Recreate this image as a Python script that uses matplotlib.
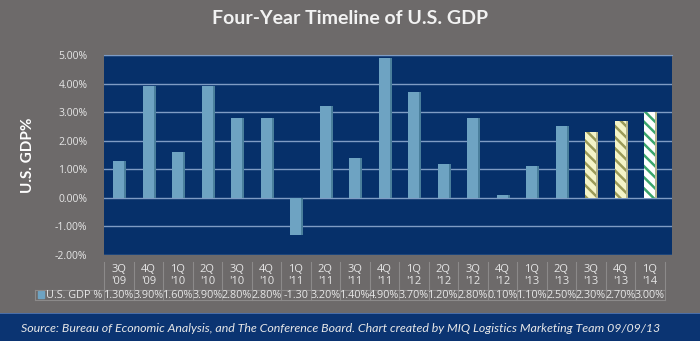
import numpy as np
import matplotlib
matplotlib.use("Agg")
import matplotlib.pyplot as plt
from matplotlib.patches import Rectangle

# data
quarters = ["3Q", "4Q", "1Q", "2Q", "3Q", "4Q", "1Q", "2Q", "3Q", "4Q",
            "1Q", "2Q", "3Q", "4Q", "1Q", "2Q", "3Q", "4Q", "1Q"]
years = ["'09", "'09", "'10", "'10", "'10", "'10", "'11", "'11", "'11", "'11",
         "'12", "'12", "'12", "'12", "'13", "'13", "'13", "'13", "'14"]
gdp = [1.3, 3.9, 1.6, 3.9, 2.8, 2.8, -1.3, 3.2, 1.4, 4.9,
       3.7, 1.2, 2.8, 0.1, 1.1, 2.5, 2.3, 2.7, 3.0]
n_forecast = 3

bg = "#6d6a6a"
wall = "#06306a"
bar_col = "#6ea3c2"
bar_side = "#4a7f9c"
txt = "#e6e6e6"
line_col = "#8c8a8a"

plt.rcParams['font.family'] = ['Lato', 'DejaVu Sans']
plt.rcParams['hatch.linewidth'] = 1.8
tfont = ['Open Sans', 'DejaVu Sans']

fig = plt.figure(figsize=(7, 3.41), dpi=100)
fig.patch.set_facecolor(bg)

W, H = 700.0, 341.0
ax = fig.add_axes([104 / W, 1 - 255 / H, 568 / W, 200 / H])
ax.set_facecolor(wall)
ax.set_xlim(-0.5, 18.75)
ax.set_ylim(-2, 5)

x = np.arange(len(gdp))
for sp in ax.spines.values():
    sp.set_visible(False)
ax.spines["top"].set_visible(True)
ax.spines["top"].set_color("#7f9cc4")
ax.yaxis.grid(True, color="#7f9cc4", linewidth=1.0)
ax.set_axisbelow(True)
ax.set_yticks(np.arange(-2, 6, 1))
ax.set_yticklabels(["%.2f%%" % v for v in np.arange(-2, 6, 1)], color=txt, fontsize=7.5,
                   family=tfont)
ax.tick_params(axis="y", length=0, pad=12)
ax.set_xticks([])

# bars
hist = len(gdp) - n_forecast
ax.bar(x[:hist] + 0.2, gdp[:hist], width=0.1, color=bar_side, zorder=2)
ax.bar(x[:hist], gdp[:hist], width=0.38, color=bar_col, zorder=3)

fc_face = ["#f4f4c8", "#f4f4c8", "#ffffff"]
fc_hatch = ["#9a9a58", "#9a9a58", "#3aa56c"]
for j in range(n_forecast):
    i = hist + j
    ax.bar(x[i] + 0.2, gdp[i], width=0.1, color="#b8b890", zorder=2)
    ax.bar(x[i], gdp[i], width=0.38, color=fc_face[j], hatch="\\\\\\",
           edgecolor=fc_hatch[j], linewidth=0, zorder=3)

ax.set_ylabel("U.S. GDP%", color="white", fontsize=11, fontweight="bold", labelpad=14)

# data table
tr = ax.get_xaxis_transform()
y_top, y_mid, y_bot = -0.035, -0.175, -0.225
for i in range(len(gdp)):
    ax.text(x[i], -0.07, quarters[i], transform=tr, ha="center", va="center",
            color=txt, fontsize=8, family=tfont)
    ax.text(x[i], -0.135, years[i], transform=tr, ha="center", va="center",
            color=txt, fontsize=8, family=tfont)
    lab = "%.2f%%" % gdp[i] if gdp[i] >= 0 else "%.2f" % gdp[i]
    ax.text(x[i], -0.2, lab, transform=tr, ha="center", va="center",
            color=txt, fontsize=7.8, family=tfont)
    ax.plot([x[i] - 0.5, x[i] - 0.5], [y_top, y_bot], transform=tr, color=line_col,
            lw=0.8, clip_on=False)
ax.plot([18.5, 18.5], [y_top, y_bot], transform=tr, color=line_col, lw=0.8, clip_on=False)
leg_x0 = -0.5 - (102 - 33) / 29.5
ax.plot([leg_x0, 18.5], [y_mid, y_mid], transform=tr, color=line_col, lw=0.8, clip_on=False)
ax.plot([leg_x0, 18.5], [y_bot, y_bot], transform=tr, color=line_col, lw=0.8, clip_on=False)
ax.plot([leg_x0, leg_x0], [y_mid, y_bot], transform=tr, color=line_col, lw=0.8, clip_on=False)
ax.add_patch(Rectangle((leg_x0 + 0.1, -0.215), 0.22, 0.035, transform=tr,
                       color=bar_col, clip_on=False))
ax.text(leg_x0 + 0.36, -0.2, "U.S. GDP %", transform=tr, ha="left", va="center",
        color=txt, fontsize=7.8, family=tfont)

# title
fig.text(0.5, 1 - 18 / H, "Four-Year Timeline of U.S. GDP", ha="center", va="center",
         color="#f2f2f2", fontsize=14, fontweight="bold")

# footer band
fig.patches.append(Rectangle((0, 0), 1, 27 / H, transform=fig.transFigure,
                             facecolor="#0b3472", edgecolor="none"))
fig.patches.append(Rectangle((0, 27 / H), 1, 1.5 / H, transform=fig.transFigure,
                             facecolor="#4a6ea8", edgecolor="none"))
fig.text(0.487, 13 / H,
         "Source: Bureau of Economic Analysis, and The Conference Board. Chart created by MIQ Logistics Marketing Team 09/09/13",
         ha="center", va="center", color="#e8e8e8", fontsize=8.9, style="italic")

fig.savefig("out.png", dpi=100, facecolor=fig.get_facecolor())
